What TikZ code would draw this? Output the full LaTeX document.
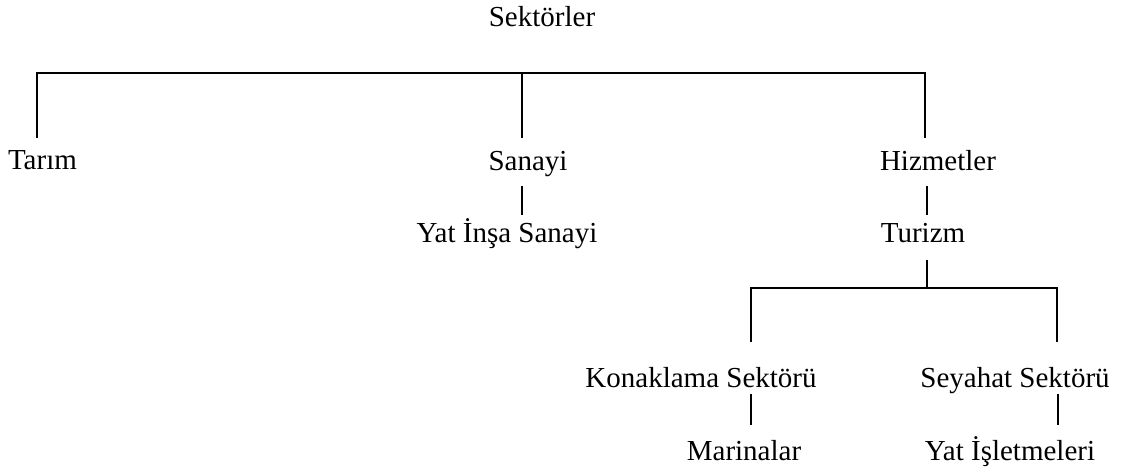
\documentclass[tikz,border=0pt]{standalone}
\usepackage{fontspec}
\setmainfont{Liberation Serif}
\begin{document}
\begin{tikzpicture}[x=0.75pt,y=-0.75pt,
  lbl/.style={inner sep=0pt, outer sep=0pt, font=\fontsize{21.75}{26}\selectfont, anchor=base},
  barline/.style={line width=1.9pt, line cap=rect},
  stem/.style={line width=1.4pt}]
\useasboundingbox (0,0) rectangle (1121,468);
% labels
\node[lbl] (sek) at (542,26) {Sektörler};
\node[lbl, anchor=base west] (tar) at (8,169) {Tarım};
\node[lbl] (san) at (528,170) {Sanayi};
\node[lbl] (hiz) at (938,170) {Hizmetler};
\node[lbl] (yis) at (507,242) {Yat İnşa Sanayi};
\node[lbl] (tur) at (923,242) {Turizm};
\node[lbl] (kon) at (701,387) {Konaklama Sektörü};
\node[lbl] (sey) at (1015,387) {Seyahat Sektörü};
\node[lbl] (mar) at (744,460) {Marinalar};
\node[lbl] (yai) at (1010,460) {Yat İşletmeleri};
% top bar
\coordinate (b1) at (37,73);
\coordinate (b2) at (522,73);
\coordinate (b3) at (925,73);
\draw[barline] (b1) -- (b3);
\coordinate (t1) at (37,138);
\coordinate (t2) at (522,138);
\coordinate (t3) at (925,138);
\draw[stem] (b1) -- (t1);
\draw[stem] (b2) -- (t2);
\draw[stem] (b3) -- (t3);
% Sanayi -> Yat Insa Sanayi
\coordinate (s1) at (522,186);
\coordinate (s2) at (522,215);
\draw[stem] (s1) -- (s2);
% Hizmetler -> Turizm
\coordinate (h1) at (927,186);
\coordinate (h2) at (927,215);
\draw[stem] (h1) -- (h2);
% Turizm -> lower bar
\coordinate (u1) at (927,260);
\coordinate (u2) at (927,288);
\draw[stem] (u1) -- (u2);
\coordinate (l1) at (751,288);
\coordinate (l2) at (1057,288);
\draw[barline] (l1) -- (l2);
\coordinate (lk) at (751,342);
\coordinate (ls) at (1057,342);
\draw[stem] (l1) -- (lk);
\draw[stem] (l2) -- (ls);
% Konaklama -> Marinalar, Seyahat -> Yat Isletmeleri
\coordinate (k1) at (751,394);
\coordinate (k2) at (751,425);
\draw[stem] (k1) -- (k2);
\coordinate (y1) at (1058,394);
\coordinate (y2) at (1058,425);
\draw[stem] (y1) -- (y2);
\end{tikzpicture}
\end{document}
